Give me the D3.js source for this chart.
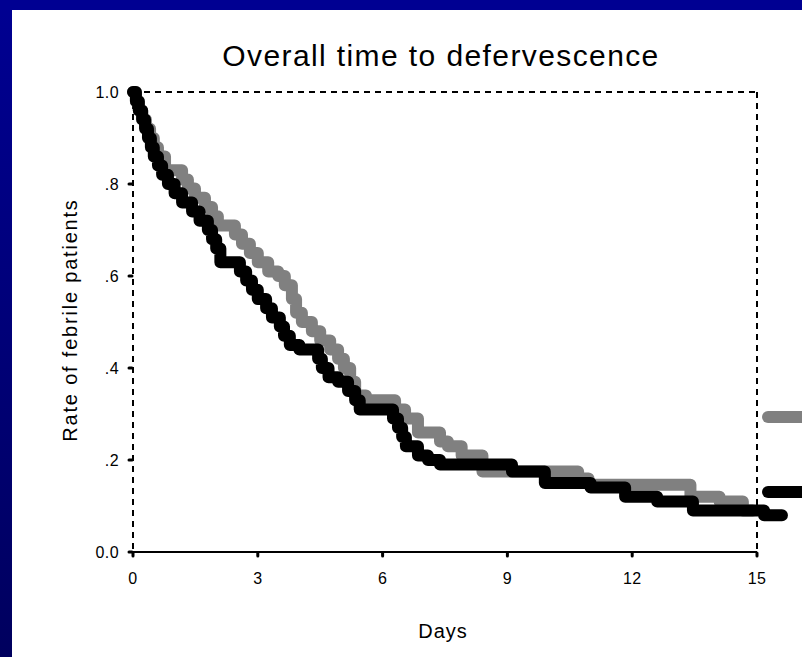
<!DOCTYPE html>
<html>
<head>
<meta charset="utf-8">
<script src="https://cdn.jsdelivr.net/npm/d3@7"></script>
<style>
  body { margin: 0; padding: 0; overflow: hidden; }
  text { font-family: "Liberation Sans", Arial, sans-serif; fill: #000; }
</style>
</head>
<body>
<script>
// Kaplan-Meier style curves, time in days, rate of febrile patients
const grayDays = [0, 0.07, 0.14, 0.22, 0.31, 0.41, 0.5, 0.6, 0.77, 1.18, 1.32, 1.49, 1.73, 1.9, 2.04, 2.45, 2.62, 2.81, 3.0, 3.25, 3.49, 3.65, 3.82, 3.92, 4.06, 4.3, 4.5, 4.74, 4.93, 5.07, 5.22, 5.34, 5.6, 6.3, 6.54, 6.85, 7.38, 7.57, 7.9, 8.4, 10.7, 10.95, 13.4, 14.1, 14.66, 14.9];
const grayRate = [1.0, 0.98, 0.96, 0.94, 0.92, 0.90, 0.88, 0.86, 0.83, 0.81, 0.79, 0.77, 0.75, 0.73, 0.71, 0.69, 0.67, 0.65, 0.63, 0.61, 0.60, 0.58, 0.55, 0.52, 0.50, 0.48, 0.46, 0.44, 0.42, 0.40, 0.37, 0.34, 0.33, 0.31, 0.29, 0.26, 0.24, 0.23, 0.21, 0.175, 0.16, 0.146, 0.12, 0.11, 0.09, 0.09];

const blackDays = [0, 0.07, 0.14, 0.22, 0.29, 0.36, 0.43, 0.5, 0.6, 0.7, 0.84, 1.0, 1.18, 1.42, 1.6, 1.8, 1.9, 2.0, 2.1, 2.57, 2.72, 2.86, 3.0, 3.2, 3.34, 3.53, 3.63, 3.77, 4.0, 4.45, 4.54, 4.7, 4.93, 5.17, 5.34, 5.45, 6.25, 6.37, 6.47, 6.56, 6.85, 7.09, 7.38, 9.11, 9.9, 11.0, 11.83, 12.6, 13.46, 15.17, 15.6];
const blackRate = [1.0, 0.98, 0.96, 0.94, 0.92, 0.90, 0.88, 0.86, 0.84, 0.82, 0.80, 0.78, 0.76, 0.74, 0.72, 0.70, 0.68, 0.66, 0.63, 0.61, 0.59, 0.57, 0.55, 0.53, 0.51, 0.49, 0.47, 0.45, 0.44, 0.42, 0.40, 0.38, 0.37, 0.35, 0.33, 0.31, 0.29, 0.27, 0.25, 0.23, 0.21, 0.20, 0.19, 0.175, 0.15, 0.14, 0.12, 0.11, 0.09, 0.08, 0.08];

const xTicks = [0, 3, 6, 9, 12, 15];
const yTicks = [0, 0.2, 0.4, 0.6, 0.8, 1.0];
const yTickLabels = ["0.0", ".2", ".4", ".6", ".8", "1.0"];

const width = 802, height = 657;
const margin = {left: 133, right: 757, top: 92, bottom: 552};

const svg = d3.select("body").append("svg")
  .attr("width", width)
  .attr("height", height);

// blue slide frame
const defs = svg.append("defs");
const grad = defs.append("linearGradient").attr("id", "side").attr("x1", 0).attr("x2", 0).attr("y1", 0).attr("y2", 1);
grad.append("stop").attr("offset", "0%").attr("stop-color", "#000092");
grad.append("stop").attr("offset", "100%").attr("stop-color", "#00005e");
svg.append("rect").attr("width", width).attr("height", height).attr("fill", "url(#side)");
svg.append("rect").attr("x", 0).attr("y", 0).attr("width", width).attr("height", 10).attr("fill", "#000092");
svg.append("rect").attr("x", 12).attr("y", 10).attr("width", width - 12).attr("height", height - 10).attr("fill", "#fff");

const x = d3.scaleLinear().domain([0, 15]).range([margin.left, margin.right]);
const y = d3.scaleLinear().domain([0, 1]).range([margin.bottom, margin.top]);

// frame
const frame = svg.append("g").attr("fill", "none").attr("stroke", "#000").attr("stroke-width", 2);
frame.append("line").attr("x1", x(0)).attr("x2", x(15)).attr("y1", y(1)).attr("y2", y(1)).attr("stroke-dasharray", "6,5");
frame.append("line").attr("x1", x(15)).attr("x2", x(15)).attr("y1", y(1)).attr("y2", y(0)).attr("stroke-dasharray", "6,5");
frame.append("line").attr("x1", x(0)).attr("x2", x(0)).attr("y1", y(1)).attr("y2", y(0)).attr("stroke-dasharray", "6,5");
frame.append("line").attr("x1", x(0)).attr("x2", x(15)).attr("y1", y(0)).attr("y2", y(0));

// y axis ticks
const yAxis = svg.append("g");
yAxis.selectAll("line").data(yTicks).join("line")
  .attr("x1", x(0) - 4).attr("x2", x(0) - 1)
  .attr("y1", d => y(d)).attr("y2", d => y(d))
  .attr("stroke", "#000").attr("stroke-width", 3).attr("stroke-linecap", "round");
yAxis.selectAll("text").data(yTicks).join("text")
  .attr("x", x(0) - 14).attr("y", d => y(d) + 6)
  .attr("text-anchor", "end").attr("font-size", 16).attr("letter-spacing", 0.4)
  .text((d, i) => yTickLabels[i]);

// x axis ticks
const xAxis = svg.append("g");
xAxis.selectAll("line").data(xTicks).join("line")
  .attr("x1", d => x(d)).attr("x2", d => x(d))
  .attr("y1", y(0) + 1).attr("y2", y(0) + 4)
  .attr("stroke", "#000").attr("stroke-width", 3).attr("stroke-linecap", "round");
xAxis.selectAll("text").data(xTicks).join("text")
  .attr("x", d => x(d)).attr("y", y(0) + 32)
  .attr("text-anchor", "middle").attr("font-size", 16).attr("letter-spacing", 0.4)
  .text(d => d);

// curves
const line = d3.line()
  .x(d => x(d[0])).y(d => y(d[1]))
  .curve(d3.curveStepAfter);

const grayData = d3.zip(grayDays, grayRate);
const blackData = d3.zip(blackDays, blackRate);

svg.append("path").datum(grayData)
  .attr("d", line)
  .attr("fill", "none").attr("stroke", "#808080").attr("stroke-width", 12)
  .attr("stroke-linecap", "round").attr("stroke-linejoin", "round");
svg.append("path").datum(blackData)
  .attr("d", line)
  .attr("fill", "none").attr("stroke", "#000").attr("stroke-width", 12)
  .attr("stroke-linecap", "round").attr("stroke-linejoin", "round");

// legend (partly cut off at the right edge)
svg.append("line").attr("x1", 768).attr("x2", 815).attr("y1", 417).attr("y2", 417)
  .attr("stroke", "#808080").attr("stroke-width", 12).attr("stroke-linecap", "round");
svg.append("line").attr("x1", 768).attr("x2", 815).attr("y1", 492).attr("y2", 492)
  .attr("stroke", "#000").attr("stroke-width", 12).attr("stroke-linecap", "round");

// titles
svg.append("text").attr("x", 441).attr("y", 66)
  .attr("text-anchor", "middle").attr("font-size", 30)
  .attr("letter-spacing", 1.4)
  .text("Overall time to defervescence");
svg.append("text").attr("x", 443).attr("y", 638)
  .attr("text-anchor", "middle").attr("font-size", 20).attr("letter-spacing", 1)
  .text("Days");
svg.append("text")
  .attr("transform", "translate(77,320) rotate(-90)")
  .attr("text-anchor", "middle").attr("font-size", 20).attr("letter-spacing", 1.8)
  .text("Rate of febrile patients");
</script>
</body>
</html>
